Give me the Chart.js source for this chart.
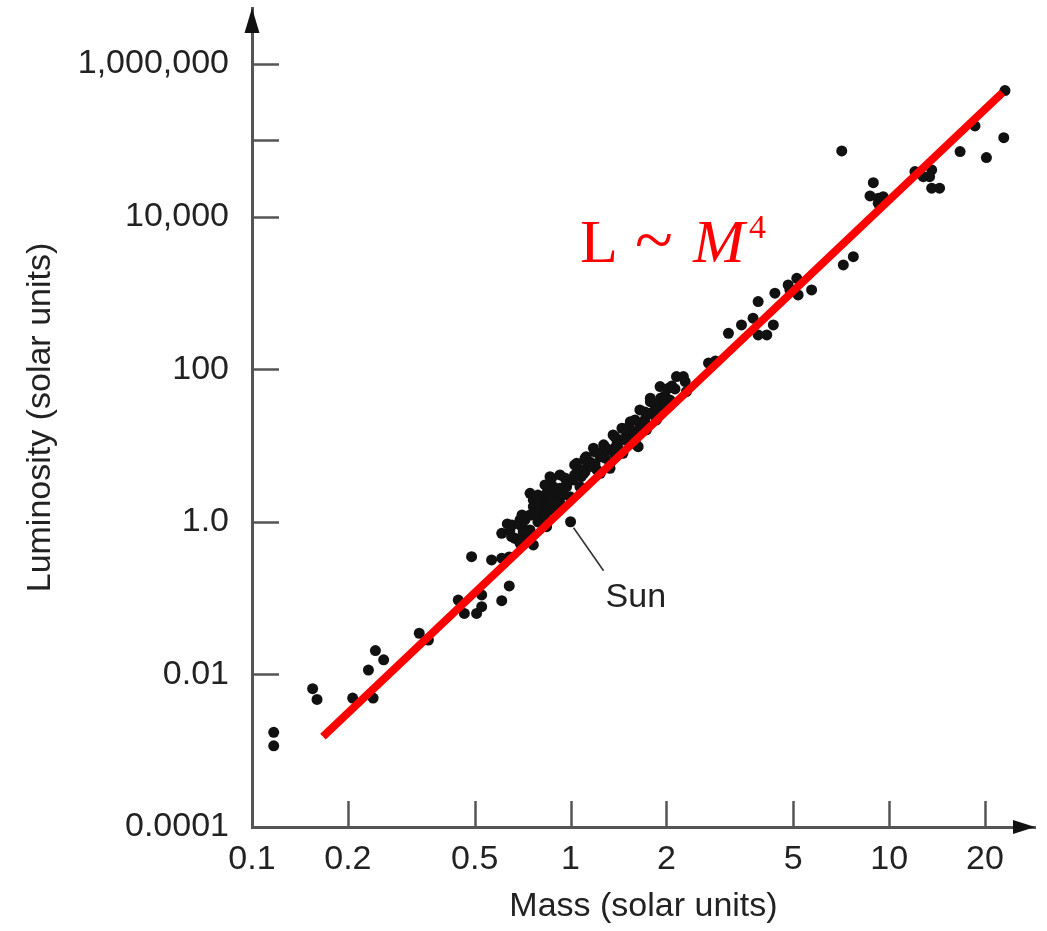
<!DOCTYPE html>
<html>
<head>
<meta charset="utf-8">
<script src="https://cdn.jsdelivr.net/npm/chart.js@4.4.1/dist/chart.umd.min.js"></script>
<style>
  html, body { margin: 0; padding: 0; background: #fff; }
  #wrap { width: 1047px; height: 931px; }
</style>
</head>
<body>
<div id="wrap"><canvas id="ml_chart" width="1047" height="931"></canvas></div>
<script>
const axis_grey = "#555555";
const text_dark = "#222222";
const dot_black = "#111111";
const fit_red = "#ff0000";

// stars (solar units)
const star_mass = [
  0.117, 0.117, 0.155, 0.160, 0.207, 0.240, 0.232, 0.244, 0.259, 0.335,
  0.358, 0.444, 0.464, 0.507, 0.526, 0.526, 0.608, 0.642, 0.489, 0.565,
  0.608, 0.642, 0.608, 0.633, 0.669, 0.710, 0.746, 0.764, 0.694, 0.737,
  0.653, 0.746, 0.685, 0.746, 0.764, 0.872, 0.755, 0.802, 0.851, 0.904,
  0.841, 0.926, 0.972, 0.904, 1.0, 0.764, 0.802, 0.841, 0.882, 0.926,
  0.972, 1.02, 0.862, 0.746, 0.926, 0.996, 1.07, 1.10, 1.14, 0.802,
  1.045, 1.12, 1.24, 1.33, 1.21, 1.08, 1.11, 1.18, 1.27, 1.36,
  1.45, 1.54, 1.65, 1.78, 1.91, 2.03, 2.15, 2.29, 2.31, 1.18,
  1.33, 1.24, 1.46, 1.61, 1.73, 1.86, 1.95, 2.05, 1.33, 1.50,
  1.65, 1.78, 1.86, 1.40, 1.24, 1.10, 1.03, 2.71, 1.63, 1.78,
  0.882, 0.862, 2.26, 2.85, 3.13, 3.44, 3.74, 3.88, 4.13, 4.33,
  3.88, 4.38, 4.82, 5.13, 5.18, 5.71, 4.88, 7.18, 7.72, 7.10,
  8.92, 8.71, 9.24, 9.58, 9.24, 12.05, 12.8, 13.6, 13.4, 13.6,
  14.4, 16.7, 18.6, 20.2, 22.9, 23.1, 1.28, 1.41, 1.56, 1.71,
  1.92, 2.08, 1.15, 1.48, 0.694, 0.790, 0.926, 1.03, 0.831, 0.790,
  0.704, 0.655, 1.54, 1.84, 1.38, 1.110, 1.110, 1.193, 1.193, 1.282,
  1.379, 1.379, 1.482, 1.482, 1.593, 1.593, 1.712, 1.712, 1.840, 1.840,
  1.978, 1.978, 2.127, 0.645, 0.694, 0.719, 0.802, 0.831, 0.862, 0.893,
  0.946, 0.996, 0.960, 1.055, 0.790, 0.719
];
const star_lum = [
  0.00174, 0.00116, 0.0065, 0.0047, 0.0049, 0.0049, 0.0114, 0.0205, 0.0155, 0.0346,
  0.0282, 0.094, 0.063, 0.063, 0.077, 0.110, 0.0925, 0.144, 0.349, 0.316,
  0.333, 0.346, 0.706, 0.936, 0.608, 0.742, 0.781, 0.497, 0.523, 0.608,
  0.638, 0.638, 0.578, 2.36, 1.93, 3.72, 1.23, 1.43, 1.66, 1.93,
  0.863, 2.36, 2.88, 1.36, 1.0, 1.58, 1.93, 2.36, 2.13, 2.75,
  3.20, 3.53, 1.43, 1.23, 1.75, 2.13, 2.88, 4.32, 5.27, 1.29,
  5.84, 7.13, 7.90, 5.02, 4.78, 3.90, 6.79, 9.19, 10.2, 13.7,
  16.8, 20.5, 29.2, 41.6, 59.0, 56.2, 79.8, 68.6, 50.7, 5.27,
  5.84, 4.32, 7.90, 10.2, 16.0, 21.6, 32.3, 39.5, 8.73, 11.8,
  17.6, 26.4, 35.7, 10.7, 7.13, 4.78, 4.11, 120, 9.65, 37.5,
  2.88, 3.90, 79.8, 128, 295, 380, 465, 281, 281, 380,
  767, 988, 1270, 1550, 939, 1090, 1090, 2320, 2980, 72400,
  27800, 18600, 17400, 18200, 14900, 38800, 33300, 40800, 33300, 23500,
  23500, 70900, 154000, 59200, 108000, 447000, 6.86, 9.27, 14.6, 21.6,
  41.9, 60.3, 6.08, 12.5, 1.06, 0.994, 4.11, 5.55, 3.04, 2.24,
  1.23, 0.908, 16.0, 29.2, 7.51, 6.46, 4.50, 8.22, 5.72, 9.56,
  12.9, 9.27, 16.5, 11.8, 21.6, 15.0, 27.5, 19.1, 35.0, 24.4,
  44.5, 31.0, 55.0, 0.781, 0.908, 0.781, 1.056, 1.23, 1.93, 1.66,
  2.24, 3.53, 3.75, 4.78, 1.66, 1.056
];

// the L ~ M^4 guide, its two ends
const fit_mass = [0.167, 22.7];
const fit_lum = [0.00153, 420000];

const mass_ticks = [0.1, 0.2, 0.5, 1, 2, 5, 10, 20];
const mass_labels = ["0.1", "0.2", "0.5", "1", "2", "5", "10", "20"];
const lum_ticks = [0.0001, 0.01, 1, 100, 10000, 100000, 1000000];
const lum_labels = ["0.0001", "0.01", "1.0", "100", "10,000", "", "1,000,000"];

const sun = { x: 1, y: 1 };
const law_anchor = { x: 1.07, y: 2500 };

Chart.defaults.font.family = "'Liberation Sans', Arial, sans-serif";
Chart.defaults.color = text_dark;

const stars = star_mass.map((m, i) => ({ x: m, y: star_lum[i] }));
const fit_line = fit_mass.map((m, i) => ({ x: m, y: fit_lum[i] }));

// inward tick marks, arrow heads, Sun pointer and the M^4 label
const axis_marks = {
  id: "axis_marks",
  beforeDatasetsDraw(chart) {
    const { ctx, chartArea: a, scales: { x, y } } = chart;
    ctx.save();
    ctx.strokeStyle = axis_grey;
    ctx.lineWidth = 2.5;
    ctx.beginPath();
    x.ticks.forEach(t => {
      if (t.value === x.min) return;
      const px = Math.round(x.getPixelForValue(t.value)) + 0.5;
      ctx.moveTo(px, a.bottom);
      ctx.lineTo(px, a.bottom - 26);
    });
    y.ticks.forEach(t => {
      if (t.value === y.min) return;
      const py = Math.round(y.getPixelForValue(t.value)) + 0.5;
      ctx.moveTo(a.left, py);
      ctx.lineTo(a.left + 27, py);
    });
    ctx.stroke();
    ctx.restore();
  },
  afterDatasetsDraw(chart) {
    const { ctx, chartArea: a, scales: { x, y } } = chart;
    ctx.save();
    ctx.fillStyle = "#111";
    ctx.beginPath();
    ctx.moveTo(a.right, a.bottom);
    ctx.lineTo(a.right - 22, a.bottom - 7);
    ctx.lineTo(a.right - 22, a.bottom + 7);
    ctx.closePath();
    ctx.fill();
    ctx.beginPath();
    ctx.moveTo(a.left, a.top);
    ctx.lineTo(a.left - 7.5, a.top + 25);
    ctx.lineTo(a.left + 7.5, a.top + 25);
    ctx.closePath();
    ctx.fill();

    // Sun
    const sx = x.getPixelForValue(sun.x);
    const sy = y.getPixelForValue(sun.y);
    ctx.strokeStyle = "#333";
    ctx.lineWidth = 1.6;
    ctx.beginPath();
    ctx.moveTo(sx + 3, sy + 6);
    ctx.lineTo(sx + 33, sy + 49);
    ctx.stroke();
    ctx.fillStyle = text_dark;
    ctx.font = "34px 'Liberation Sans', Arial, sans-serif";
    ctx.textBaseline = "alphabetic";
    ctx.fillText("Sun", sx + 35, sy + 85);

    // L ~ M^4
    const lx = x.getPixelForValue(law_anchor.x);
    const ly = y.getPixelForValue(law_anchor.y);
    ctx.fillStyle = fit_red;
    ctx.font = "62px 'Liberation Serif', serif";
    ctx.fillText("L", lx, ly);
    ctx.font = "70px 'Liberation Serif', serif";
    ctx.fillText("~", lx + 55, ly + 1);
    ctx.font = "italic 62px 'Liberation Serif', serif";
    ctx.fillText("M", lx + 113, ly);
    ctx.font = "34px 'Liberation Serif', serif";
    ctx.fillText("4", lx + 169, ly - 24);
    ctx.restore();
  }
};

const ml_config = {
  type: "scatter",
  data: {
    datasets: [{
      type: "line",
      label: "L ~ M^4",
      data: fit_line,
      borderColor: fit_red,
      borderWidth: 8,
      borderCapStyle: "butt",
      pointRadius: 0,
      fill: false,
      order: 0
    }, {
      label: "Stars",
      data: stars,
      backgroundColor: dot_black,
      borderWidth: 0,
      pointRadius: 5.5,
      order: 1
    }]
  },
  options: {
    responsive: false,
    animation: false,
    events: [],
    layout: { autoPadding: false, padding: { left: 0, right: 12, top: 8, bottom: 0 } },
    plugins: {
      legend: { display: false },
      tooltip: { enabled: false }
    },
    scales: {
      x: {
        type: "logarithmic",
        position: "bottom",
        min: 0.1,
        max: 28.7,
        afterBuildTicks: s => { s.ticks = mass_ticks.map(v => ({ value: v })); },
        afterFit: s => { s.height = 104; s.paddingLeft = 0; s.paddingRight = 0; },
        grid: { display: false, drawTicks: false },
        border: { display: true, color: axis_grey, width: 3 },
        ticks: {
          autoSkip: false,
          maxRotation: 0,
          padding: 12,
          color: text_dark,
          font: { size: 34 },
          callback: v => mass_labels[mass_ticks.indexOf(v)]
        },
        title: {
          display: true,
          text: "Mass (solar units)",
          color: text_dark,
          font: { size: 34 },
          padding: { top: 0, bottom: 4 }
        }
      },
      y: {
        type: "logarithmic",
        position: "left",
        min: 0.0001,
        max: 5.4e6,
        afterBuildTicks: s => { s.ticks = lum_ticks.map(v => ({ value: v })); },
        afterFit: s => { s.width = 252; s.paddingTop = 0; s.paddingBottom = 0; },
        grid: { display: false, drawTicks: false },
        border: { display: true, color: axis_grey, width: 3 },
        ticks: {
          autoSkip: false,
          padding: 23,
          color: text_dark,
          font: { size: 34 },
          callback: v => lum_labels[lum_ticks.indexOf(v)]
        },
        title: {
          display: true,
          text: "Luminosity (solar units)",
          color: text_dark,
          font: { size: 34 },
          padding: { top: 20, bottom: 0 }
        }
      }
    }
  },
  plugins: [axis_marks]
};

const ctx = document.getElementById("ml_chart");
const ml_chart = new Chart(ctx, ml_config);
</script>
</body>
</html>
